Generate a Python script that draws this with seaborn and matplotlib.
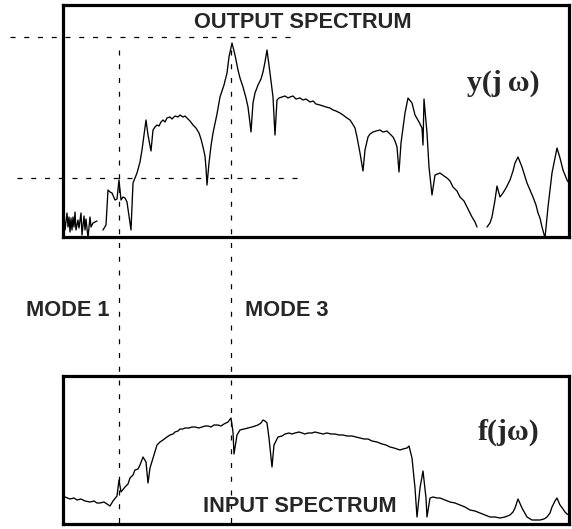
"""Output / input spectrum comparison (mode 1 and mode 3 markers)."""

import pandas as pd
import matplotlib
matplotlib.use('Agg')
import matplotlib.pyplot as plt
import seaborn as sns

# frequency in arbitrary units (0 .. 507), magnitude in arbitrary units
# output spectrum y(jw) comes in three pieces (the trace has dropouts)
out_freq_a = [0, 1, 2, 3, 5, 6, 7, 8, 9, 10,
              11, 12, 13, 14, 16, 17, 19, 20, 22, 23,
              24, 26, 28, 29, 31, 35]
out_mag_a = [28, 6, 23, 8, 25, 11, 21, 6, 20, 8,
             21, 11, 26, 8, 18, 10, 25, 3, 22, 8,
             19, 0, 21, 11, 15, 17]

out_freq_b = [41, 44, 46, 48, 50, 53, 55, 57, 59, 61,
              63, 65, 67, 69, 71, 73, 75, 78, 80, 82,
              84, 86, 88, 89, 91, 93, 95, 97, 99, 101,
              103, 105, 108, 110, 113, 116, 118, 121, 123, 125,
              128, 131, 134, 137, 139, 141, 143, 144, 145, 147,
              149, 151, 155, 158, 162, 165, 167, 170, 173, 176,
              178, 181, 184, 186, 188, 189, 191, 193, 196, 199,
              201, 203, 205, 208, 211, 213, 215, 217, 220, 223,
              226, 228, 231, 234, 238, 241, 244, 248, 251, 254,
              258, 261, 264, 268, 271, 274, 278, 281, 285, 288,
              290, 293, 295, 298, 301, 303, 306, 308, 311, 314,
              318, 321, 325, 328, 331, 333, 335, 337, 339, 343,
              346, 350, 353, 357, 360, 361, 362, 365, 367, 370,
              373, 378, 382, 385, 388, 391, 395, 398, 402, 405,
              408, 410, 413, 415]
out_mag_b = [8, 13, 48, 46, 45, 38, 39, 58, 38, 41,
             40, 36, 22, 8, 55, 60, 65, 76, 88, 103,
             118, 103, 92, 87, 108, 111, 113, 112, 116, 118,
             116, 120, 121, 119, 122, 121, 123, 121, 122, 120,
             117, 113, 110, 105, 99, 91, 82, 70, 53, 75,
             92, 105, 124, 141, 153, 165, 181, 195, 183, 168,
             160, 151, 140, 131, 115, 106, 135, 145, 153, 159,
             166, 176, 188, 165, 141, 103, 138, 140, 141, 142,
             140, 141, 142, 139, 140, 138, 139, 136, 137, 134,
             133, 132, 131, 130, 128, 127, 125, 123, 120, 118,
             115, 110, 101, 85, 67, 88, 101, 104, 106, 107,
             108, 106, 107, 104, 101, 97, 91, 66, 95, 125,
             140, 135, 123, 116, 110, 93, 139, 105, 71, 43,
             63, 65, 62, 60, 57, 51, 47, 41, 37, 31,
             25, 21, 16, 11]

out_freq_c = [425, 428, 430, 433, 435, 438, 441, 444, 448, 451,
              453, 456, 460, 465, 468, 471, 474, 476, 478, 480,
              483, 486, 490, 495, 498, 501, 505, 507]
out_mag_c = [11, 15, 21, 38, 52, 41, 45, 50, 58, 67,
             75, 81, 71, 55, 48, 41, 33, 25, 20, 11,
             0, 31, 65, 90, 80, 68, 58, 55]

# input spectrum f(jw)
in_freq = [3, 8, 12, 15, 19, 23, 28, 32, 35, 38,
           42, 45, 48, 51, 55, 57, 59, 63, 66, 68,
           71, 73, 76, 78, 81, 84, 86, 88, 91, 95,
           98, 101, 105, 108, 111, 113, 116, 118, 121, 123,
           127, 130, 133, 137, 140, 143, 146, 149, 152, 156,
           159, 162, 166, 169, 171, 172, 175, 178, 182, 186,
           190, 193, 196, 199, 201, 203, 205, 207, 210, 212,
           216, 220, 223, 227, 230, 233, 237, 240, 243, 246,
           250, 253, 257, 261, 265, 269, 273, 277, 281, 285,
           290, 294, 298, 302, 306, 310, 315, 320, 324, 328,
           332, 335, 338, 341, 345, 347, 350, 353, 355, 358,
           361, 364, 365, 368, 371, 375, 378, 383, 388, 393,
           398, 403, 408, 413, 418, 423, 428, 433, 438, 443,
           448, 451, 453, 456, 460, 465, 470, 474, 478, 482,
           485, 488, 490, 493, 495, 498, 501, 503, 505, 507]
in_mag = [28, 26, 27, 25, 26, 24, 23, 24, 22, 22,
          23, 21, 19, 24, 29, 45, 33, 38, 41, 47,
          50, 55, 56, 60, 68, 63, 42, 57, 67, 80,
          83, 85, 88, 90, 91, 93, 94, 96, 96, 97,
          97, 98, 98, 97, 98, 99, 99, 98, 100, 100,
          99, 101, 103, 107, 93, 71, 90, 95, 96, 97,
          98, 99, 100, 102, 105, 104, 102, 87, 58, 80,
          88, 89, 91, 92, 91, 92, 93, 92, 91, 92,
          92, 93, 92, 91, 92, 91, 91, 90, 90, 89,
          89, 88, 87, 86, 86, 84, 83, 81, 80, 78,
          77, 76, 75, 76, 77, 79, 67, 37, 8, 37,
          54, 27, 8, 27, 28, 27, 27, 25, 23, 22,
          20, 18, 15, 14, 12, 10, 8, 8, 7, 8,
          10, 13, 17, 26, 17, 8, 5, 5, 5, 6,
          8, 12, 18, 24, 27, 20, 16, 13, 11, 10]

mode_freqs = [57, 169]
mode_labels = ['MODE 1', 'MODE 3']
ref_levels = [201, 60]   # horizontal reference lines on the output spectrum

pieces = [(out_freq_a, out_mag_a), (out_freq_b, out_mag_b), (out_freq_c, out_mag_c)]
out_df = pd.concat(
    [pd.DataFrame({'freq': f, 'mag': m, 'seg': i}) for i, (f, m) in enumerate(pieces)],
    ignore_index=True,
)
in_df = pd.DataFrame({'freq': in_freq, 'mag': in_mag})

sns.set_style('white')
plt.rcParams['font.family'] = ['Liberation Sans', 'DejaVu Sans']

W, H = 572, 529
fig = plt.figure(figsize=(W / 100, H / 100), dpi=100)


def px_axes(l, t, r, b):
    # panel placement given in figure pixels
    return fig.add_axes([l / W, 1 - b / H, (r - l) / W, (b - t) / H])


ax_out = px_axes(62.5, 5, 568.5, 237)
ax_in = px_axes(62.5, 375.5, 568.5, 524)

sns.lineplot(data=out_df, x='freq', y='mag', units='seg', estimator=None,
             color='black', lw=0.95, ax=ax_out)
sns.lineplot(data=in_df, x='freq', y='mag', color='black', lw=0.95, ax=ax_in)

ax_out.set_ylim(1, 233)
ax_in.set_ylim(1, 149.5)
for ax in (ax_out, ax_in):
    ax.set_xlim(0.5, 506.5)
    ax.set(xticks=[], yticks=[], xlabel='', ylabel='')
    for sp in ax.spines.values():
        sp.set_visible(True)
        sp.set_color('black')
        sp.set_linewidth(2.3)

# overlay in figure pixels for the dashed guides and annotations
ov = fig.add_axes([0, 0, 1, 1], zorder=5)
ov.set_xlim(0, W)
ov.set_ylim(H, 0)
ov.axis('off')
ov.patch.set_alpha(0)

dash = dict(color='black', lw=0.9, dashes=(4, 7))
for lvl, x0, x1 in zip(ref_levels, [10, 17], [295, 300]):
    ypx = 238 - lvl
    ov.plot([x0, x1], [ypx, ypx], **dash)
for f in mode_freqs:
    ov.plot([f + 62, f + 62], [50, H], **dash)

bold = dict(fontweight='bold', fontsize=15.7, ha='center', va='center')
ov.text(303, 22.5, 'OUTPUT SPECTRUM', **bold)
ov.text(300, 506, 'INPUT SPECTRUM', **bold)
ov.text(68, 310, mode_labels[0], **bold)
ov.text(287, 310, mode_labels[1], **bold)

serif = dict(family=['Liberation Serif', 'DejaVu Serif'], fontweight='bold',
             fontsize=21.5, ha='center', va='center')
ov.text(503, 83, 'y(j\u2009\u03c9)', **serif)
ov.text(509, 432, 'f(j\u03c9)', **serif)

plt.savefig('out.png', dpi=100)
plt.close()
